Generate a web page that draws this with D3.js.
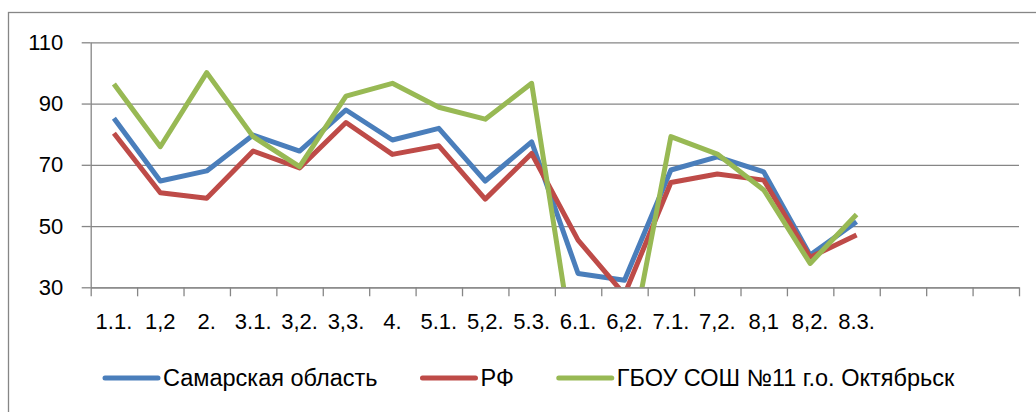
<!DOCTYPE html>
<html>
<head>
<meta charset="utf-8">
<script src="https://cdn.jsdelivr.net/npm/d3@7.9.0/dist/d3.min.js"></script>
<style>
  body { margin: 0; background: #fff; }
  svg { display: block; font-family: "Liberation Sans", Arial, sans-serif; }
</style>
</head>
<body>
<div id="chart"></div>
<script>
// categories on the x axis (the last slots of the axis are empty)
const categories = ["1.1.", "1,2", "2.", "3.1.", "3,2.", "3,3.", "4.", "5.1.", "5,2.", "5.3.",
  "6.1.", "6,2.", "7.1.", "7,2.", "8,1", "8,2.", "8.3."];
const slotCount = 20;

const samara = [85.2, 64.7, 68, 79.7, 74.5, 87.9, 78.1, 81.9, 64.7, 77.5, 34.5, 32.3, 68.3, 72.6, 67.7, 40.5, 51.4];
const rf = [80.3, 60.9, 59.1, 74.5, 69, 83.8, 73.4, 76.2, 58.8, 73.7, 45.4, 27.6, 64.2, 67, 65, 39.8, 47.1];
const school = [96.4, 75.9, 100.1, 79.2, 69.4, 92.4, 96.6, 88.8, 84.9, 96.6, 0, 0, 79.2, 73.5, 61.8, 37.8, 53.8];

const seriesNames = ["Самарская область", "РФ", "ГБОУ СОШ №11 г.о. Октябрьск"];
const seriesColors = ["#4A7EBB", "#BE4B48", "#98B954"];
const yTicks = [30, 50, 70, 90, 110];

const series = [samara, rf, school].map((values, i) => ({
  name: seriesNames[i], color: seriesColors[i], values
}));

const W = 1036, H = 412;
const plot = { left: 90.7, right: 1019, top: 42.3, bottom: 287.3 };
const gridColor = "#868686";

const svg = d3.select("#chart").append("svg")
  .attr("width", W)
  .attr("height", H);

// outer chart border (runs off the right and bottom of the picture)
svg.append("rect")
  .attr("x", 8.5).attr("y", 12.5)
  .attr("width", W + 20).attr("height", H + 20)
  .attr("fill", "none")
  .attr("stroke", gridColor)
  .attr("stroke-width", 1.3);

const x = d3.scaleBand()
  .domain(d3.range(slotCount))
  .range([plot.left, plot.right]);

const xEdge = d3.scaleLinear()
  .domain([0, slotCount])
  .range([plot.left, plot.right]);

const y = d3.scaleLinear()
  .domain([30, 110])
  .range([plot.bottom, plot.top]);

// horizontal gridlines
svg.append("g")
  .attr("transform", `translate(${plot.left},0)`)
  .call(d3.axisLeft(y).tickValues(yTicks).tickSize(-(plot.right - plot.left)).tickFormat(""))
  .call(g => g.select(".domain").remove())
  .call(g => g.selectAll("line").attr("stroke", gridColor).attr("stroke-width", 1.3));

// y axis with ticks and labels
svg.append("g")
  .attr("transform", `translate(${plot.left},0)`)
  .call(d3.axisLeft(y).tickValues(yTicks).tickSize(9).tickPadding(18.4).tickSizeOuter(0))
  .call(g => g.select(".domain").attr("stroke", gridColor).attr("stroke-width", 1.3))
  .call(g => g.selectAll("line").attr("stroke", gridColor).attr("stroke-width", 1.3))
  .call(g => g.selectAll("text").attr("font-size", 22).attr("fill", "#000")
    .attr("font-family", "Liberation Sans, Arial, sans-serif"));

// x axis: tick marks between categories
svg.append("g")
  .attr("transform", `translate(0,${plot.bottom})`)
  .call(d3.axisBottom(xEdge).ticks(slotCount).tickSize(9).tickFormat("").tickSizeOuter(0))
  .call(g => g.select(".domain").attr("stroke", gridColor).attr("stroke-width", 1.3))
  .call(g => g.selectAll("line").attr("stroke", gridColor).attr("stroke-width", 1.3));

// x axis: category labels
svg.append("g")
  .attr("transform", `translate(0,${plot.bottom})`)
  .call(d3.axisBottom(x).tickSize(0).tickPadding(26).tickFormat(i => categories[i] || ""))
  .call(g => g.select(".domain").remove())
  .call(g => g.selectAll("text").attr("font-size", 22).attr("fill", "#000")
    .attr("font-family", "Liberation Sans, Arial, sans-serif"));

// clip lines to the plot area
svg.append("defs").append("clipPath")
  .attr("id", "plot-clip")
  .append("rect")
  .attr("x", plot.left).attr("y", plot.top - 10)
  .attr("width", plot.right - plot.left)
  .attr("height", plot.bottom - plot.top + 10);

const line = d3.line()
  .x((d, i) => x(i) + x.bandwidth() / 2)
  .y(d => y(d));

svg.append("g")
  .attr("clip-path", "url(#plot-clip)")
  .selectAll("path")
  .data(series)
  .join("path")
    .attr("d", d => line(d.values))
    .attr("fill", "none")
    .attr("stroke", d => d.color)
    .attr("stroke-width", 5)
    .attr("stroke-linejoin", "round")
    .attr("stroke-linecap", "butt");

// legend
const legendY = 378;
const legend = svg.append("g");
let lx = 105;
series.forEach(s => {
  legend.append("line")
    .attr("x1", lx).attr("x2", lx + 53)
    .attr("y1", legendY).attr("y2", legendY)
    .attr("stroke", s.color)
    .attr("stroke-width", 5)
    .attr("stroke-linecap", "round");
  const t = legend.append("text")
    .attr("x", lx + 58)
    .attr("y", legendY)
    .attr("dy", "0.35em")
    .attr("font-size", 23.5)
    .attr("fill", "#000")
    .text(s.name);
  lx += 58 + t.node().getComputedTextLength() + 45;
});
</script>
</body>
</html>
